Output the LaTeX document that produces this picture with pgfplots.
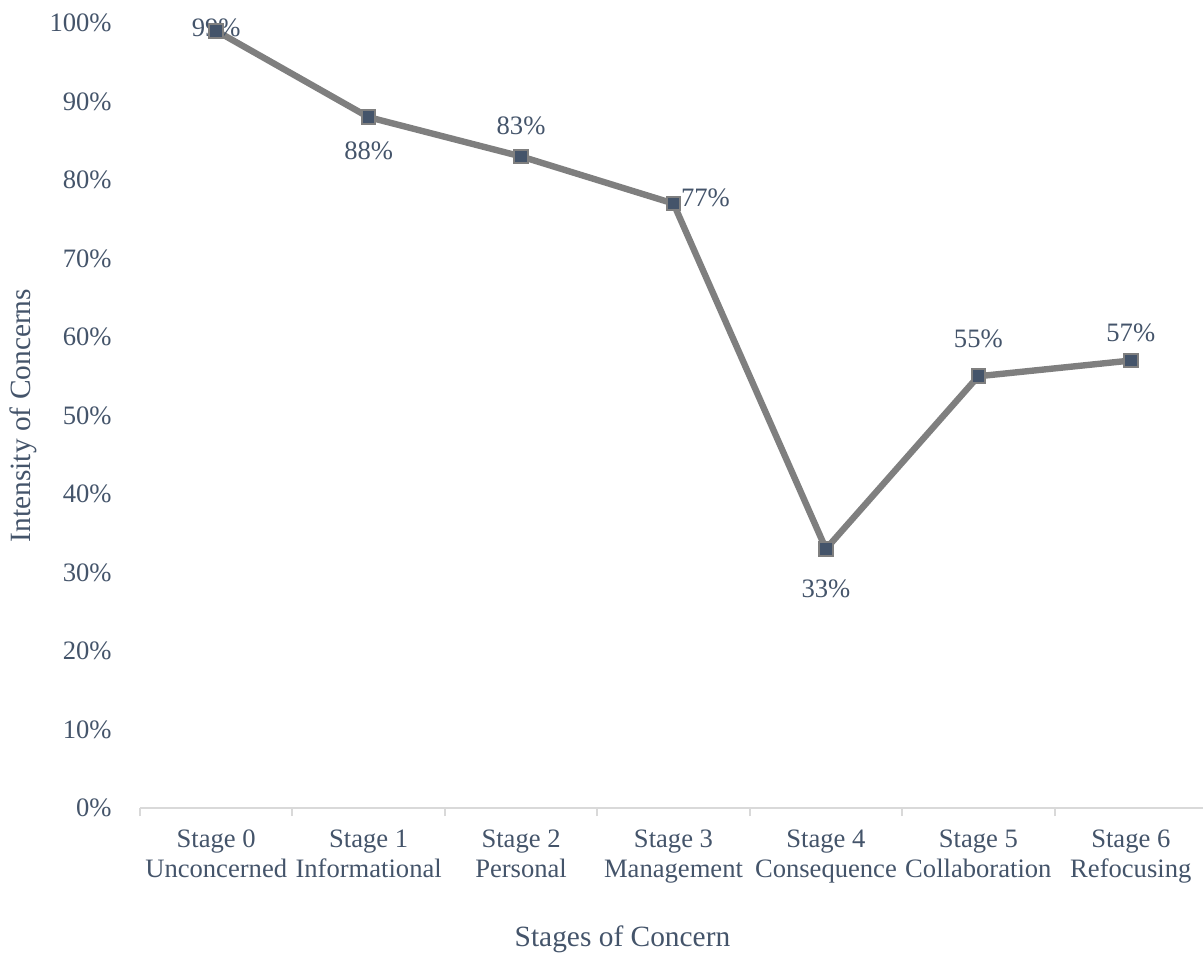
\documentclass[border=0pt]{standalone}
\usepackage{pgfplots}
\usepackage{pgfplotstable}
\usepackage{fontspec}
\pgfplotsset{compat=1.18}
\setmainfont{Liberation Serif}
\definecolor{txt}{HTML}{44546A}
\definecolor{ln}{HTML}{7F7F7F}
\definecolor{ax}{HTML}{D9D9D9}
\newcommand{\fs}{\fontsize{13.3}{15}\selectfont}
\newcommand{\ft}{\fontsize{14.7}{16}\selectfont}

% stage, value, label offset (px)
\pgfplotstableread{
x  y   dx  dy
0  99  0   3
1  88  0  -34
2  83  0   31
3  77  32  6
4  33  0  -40
5  55  0   37
6  57  0   28
}\soc

\begin{document}
\begin{tikzpicture}
\path[use as bounding box] (0,0) rectangle (601.5pt,476.5pt);
\begin{axis}[
    at={(70pt,72.5pt)}, anchor=south west,
    scale only axis,
    width=533.5pt, height=392.5pt,
    xmin=-0.5, xmax=6.5,
    ymin=0, ymax=100,
    axis x line=bottom, axis y line=left,
    axis line style={-},
    x axis line style={draw=ax, line width=1pt},
    y axis line style={draw=none},
    xtick={0,...,6},
    xticklabels={{\strut Stage 0\\\strut Unconcerned},{\strut Stage 1\\\strut Informational},
      {\strut Stage 2\\\strut Personal},{\strut Stage 3\\\strut Management},
      {\strut Stage 4\\\strut Consequence},{\strut Stage 5\\\strut Collaboration},
      {\strut Stage 6\\\strut Refocusing}},
    major x tick style={draw=none},
    major tick length=0pt,
    minor xtick={-0.5,0.5,...,6.5},
    minor x tick style={draw=ax, line width=1pt},
    minor tick length=4pt,
    tick align=outside,
    ytick={0,10,...,100},
    ytick style={draw=none},
    yticklabel={\pgfmathprintnumber{\tick}\%},
    /pgf/number format/assume math mode=true,
    every tick label/.append style={font=\fs, text=txt},
    yticklabel style={anchor=east, inner sep=0pt, xshift=-14pt},
    xticklabel style={anchor=north, align=center, yshift=-9pt, inner sep=0pt},
    xlabel={Stages of Concern},
    ylabel={Intensity of Concerns},
    every axis x label/.style={at={(axis description cs:0.4522,-0.1767)}, anchor=base,
      font=\ft, text=txt},
    every axis y label/.style={at={(axis description cs:-0.1097,0.5)}, anchor=center, rotate=90,
      font=\ft, text=txt},
    clip=false,
]
\addplot[ln, line width=3.2pt, no markers,
    point meta=explicit,
    visualization depends on={\thisrow{dx} \as \dx},
    visualization depends on={\thisrow{dy} \as \dy},
    nodes near coords={\pgfmathprintnumber{\pgfplotspointmeta}\%},
    every node near coord/.append style={anchor=center, inner sep=0pt,
      xshift=\dx*0.5pt, yshift=\dy*0.5pt, font=\fs, text=txt},
] table[x=x, y=y, meta=y] {\soc};
\addplot[only marks, mark=square*, mark size=3.4pt,
    mark options={fill=txt, draw=ln, line width=1pt}] table[x=x, y=y] {\soc};
\end{axis}
\end{tikzpicture}
\end{document}
